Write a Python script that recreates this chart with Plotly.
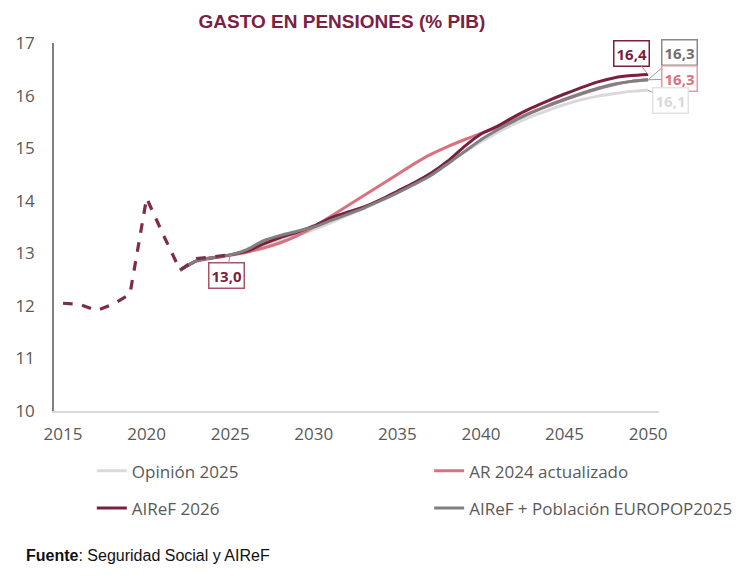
import plotly.graph_objects as go

# ---------------- data ----------------
hist_years = list(range(2015, 2026))
hist_vals = [12.05, 12.03, 11.91, 12.03, 12.22, 14.05, 13.35, 12.68, 12.90, 12.93, 12.97]

proj_years = list(range(2022, 2051))
opinion_2025 = [12.68, 12.86, 12.92, 12.97, 13.04, 13.14, 13.24, 13.35, 13.45,
                13.58, 13.72, 13.86, 14.01, 14.17, 14.34, 14.52, 14.72, 14.92, 15.12,
                15.30, 15.46, 15.60, 15.72, 15.83, 15.92, 15.99, 16.04, 16.08, 16.10]
ar_2024 = [12.68, 12.85, 12.91, 12.96, 13.02, 13.10, 13.20, 13.33, 13.50,
           13.70, 13.90, 14.10, 14.30, 14.50, 14.70, 14.88, 15.03, 15.16, 15.28,
           15.40, 15.54, 15.68, 15.80, 15.92, 16.03, 16.13, 16.21, 16.27, 16.30]
airef_2026 = [12.68, 12.86, 12.92, 12.97, 13.04, 13.18, 13.30, 13.40, 13.52,
              13.67, 13.78, 13.88, 14.02, 14.18, 14.34, 14.52, 14.75, 15.03, 15.27,
              15.42, 15.60, 15.76, 15.90, 16.03, 16.15, 16.26, 16.34, 16.38, 16.40]
airef_europop = [12.68, 12.86, 12.92, 12.97, 13.07, 13.24, 13.34, 13.42, 13.50,
                 13.62, 13.74, 13.86, 14.00, 14.15, 14.31, 14.48, 14.70, 14.93, 15.16,
                 15.35, 15.52, 15.67, 15.81, 15.93, 16.04, 16.14, 16.22, 16.27, 16.30]

names = ["Opinión 2025", "AR 2024 actualizado", "AIReF 2026", "AIReF + Población EUROPOP2025"]
x_ticks = [2015, 2020, 2025, 2030, 2035, 2040, 2045, 2050]
y_ticks = [10, 11, 12, 13, 14, 15, 16, 17]

# ---------------- styles ----------------
C_OPI = "#D9D9D9"
C_AR = "#D9727F"
C_AIREF = "#7B1F3F"
C_EURO = "#808080"
C_HIST = "#7F2D47"
C_TITLE = "#7B2141"
TICK_FONT = dict(family="Open Sans", size=17, color="#595959")
LEG_FONT = dict(family="Open Sans", size=17, color="#595959")

fig = go.Figure()

fig.add_trace(go.Scatter(x=proj_years, y=opinion_2025, name=names[0], mode="lines",
                         line=dict(color=C_OPI, width=3, shape="spline", smoothing=0.6),
                         legend="legend", legendgroup="a"))
fig.add_trace(go.Scatter(x=proj_years, y=ar_2024, name=names[1], mode="lines",
                         line=dict(color=C_AR, width=3, shape="spline", smoothing=0.6),
                         legend="legend2", legendgroup="b"))
fig.add_trace(go.Scatter(x=proj_years, y=airef_2026, name=names[2], mode="lines",
                         line=dict(color=C_AIREF, width=3, shape="spline", smoothing=0.6),
                         legend="legend", legendgroup="c"))
fig.add_trace(go.Scatter(x=proj_years, y=airef_europop, name=names[3], mode="lines",
                         line=dict(color=C_EURO, width=3, shape="spline", smoothing=0.6),
                         legend="legend2", legendgroup="d"))
fig.add_trace(go.Scatter(x=hist_years, y=hist_vals, mode="lines", showlegend=False,
                         line=dict(color=C_HIST, width=3.2, dash="dash")))

# labels
def label(x, y, text, color, border, ax, ay, conn="#9A9A9A"):
    fig.add_annotation(x=x, y=y, text="<b>%s</b>" % text, showarrow=True,
                       arrowhead=0, arrowwidth=1, arrowcolor=conn, ax=ax, ay=ay,
                       font=dict(family="Open Sans", size=15, color=color),
                       bordercolor=border, borderwidth=1.5, borderpad=2,
                       bgcolor="white")

label(2025, 12.97, "13,0", C_AIREF, "#A55566", -4, 21)
label(2050, 16.40, "16,4", C_AIREF, C_AIREF, -17, -21)
label(2050, 16.30, "16,3", "#707070", "#8A8A8A", 31, -27)
label(2050, 16.30, "16,3", C_AR, "#E29AA3", 31, -1)
label(2050, 16.10, "16,1", C_OPI, "#E3E3E3", 22, 10)

fig.add_annotation(text="<b>Fuente</b>: Seguridad Social y AIReF", xref="paper", yref="paper",
                   x=-0.05, y=-0.394, xanchor="left", yanchor="middle", showarrow=False,
                   font=dict(family="Liberation Sans", size=16, color="#111111"))

fig.update_layout(
    width=750, height=588,
    margin=dict(l=54, r=88, t=43, b=177),
    paper_bgcolor="white", plot_bgcolor="white",
    title=dict(text="<b>GASTO EN PENSIONES (% PIB)</b>", x=342 / 750, xanchor="center",
               y=1 - 21 / 588, yanchor="middle",
               font=dict(family="Liberation Sans", size=19, color=C_TITLE)),
    xaxis=dict(range=[2014.46, 2050.65], tickmode="array", tickvals=x_ticks,
               showgrid=False, zeroline=False, showline=True, linecolor="#D9D9D9",
               linewidth=2, ticks="", tickfont=TICK_FONT, ticklabelstandoff=7),
    yaxis=dict(range=[10, 17], tickmode="array", tickvals=y_ticks,
               showgrid=False, zeroline=False, showline=True, linecolor="#7F7F7F",
               linewidth=1.5, ticks="", tickfont=TICK_FONT, ticklabelstandoff=14),
    legend=dict(x=(92 - 54) / 608, y=-0.115, xanchor="left", yanchor="top",
                orientation="v", tracegroupgap=12, itemwidth=30,
                font=LEG_FONT, bgcolor="rgba(0,0,0,0)"),
    legend2=dict(x=(431 - 54) / 608, y=-0.115, xanchor="left", yanchor="top",
                 orientation="v", tracegroupgap=12, itemwidth=30,
                 font=LEG_FONT, bgcolor="rgba(0,0,0,0)"),
    showlegend=True,
)

fig.write_html("out.html")
